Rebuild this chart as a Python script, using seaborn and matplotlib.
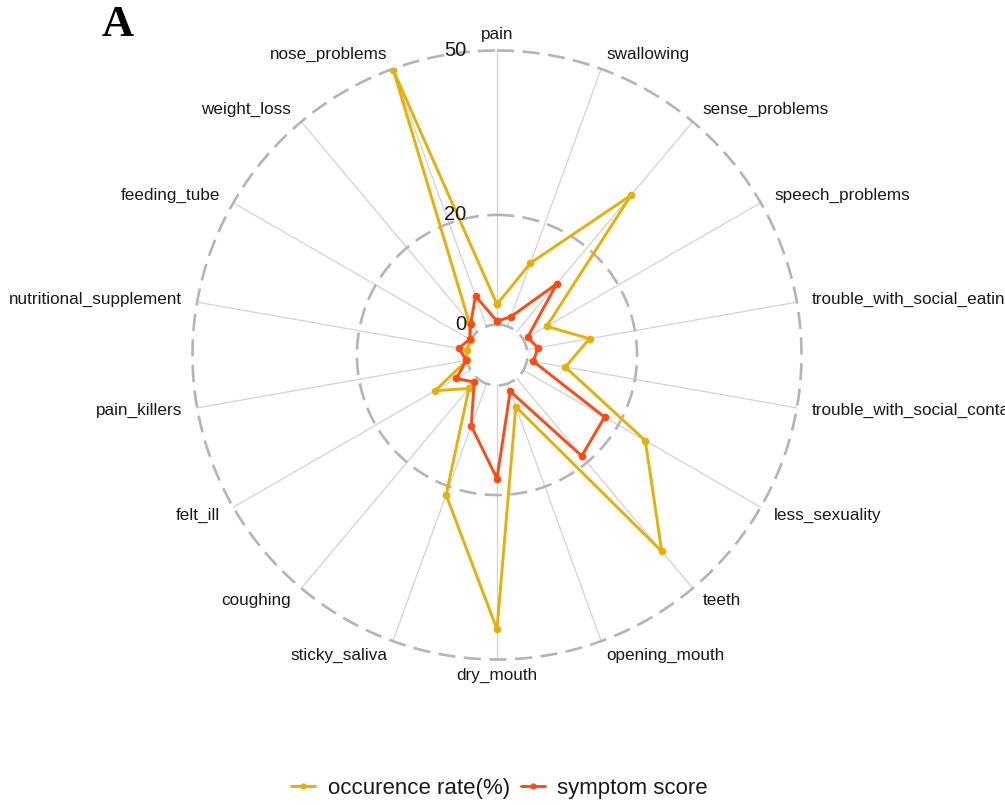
import numpy as np
import pandas as pd
import seaborn as sns
import matplotlib.pyplot as plt
from matplotlib.lines import Line2D
from matplotlib.transforms import ScaledTranslation

# data
categories = ["pain", "swallowing", "sense_problems", "speech_problems",
              "trouble_with_social_eating", "trouble_with_social_contact",
              "less_sexuality", "teeth", "opening_mouth", "dry_mouth",
              "sticky_saliva", "coughing", "felt_ill", "pain_killers",
              "nutritional_supplement", "feeding_tube", "weight_loss",
              "nose_problems"]
occurrence = [3.7, 12.3, 32.5, 4.9, 11.6, 7.1, 25.7, 41.2, 4.5, 44.5,
              21.6, 2.4, 7.5, 0.0, 0.0, 0.0, 2.4, 49.7]
symptom = [0.6, 1.9, 11.4, 0.9, 2.0, 1.2, 17.1, 18.5, 1.5, 17.0,
           8.2, 0.9, 3.0, 0.1, 1.5, 0.2, 1.9, 5.9]
series_names = ["occurence rate(%)", "symptom score"]
grid_values = [0, 20, 50]

YELLOW = "#E6B00A"
RED = "#FF4A14"
OFF = 50 / 9  # centre offset, like ggradar

sns.set_theme(style="white")
plt.rcParams["font.family"] = ["Liberation Sans", "DejaVu Sans"]

fig = plt.figure(figsize=(10.05, 8.05), dpi=100)
R_PX = 304.5
ax = fig.add_axes([(497 - R_PX) / 1005, (450 - R_PX) / 805,
                   2 * R_PX / 1005, 2 * R_PX / 805], projection="polar")
ax.set_theta_zero_location("N")
ax.set_theta_direction(-1)
ax.set_ylim(0, 50 + OFF)
ax.grid(False)
ax.set_xticks([])
ax.set_yticks([])
ax.spines["polar"].set_visible(False)
ax.set_facecolor("white")

n = len(categories)
angles = np.arange(n) * 2 * np.pi / n

# spokes
for a in angles:
    ax.plot([a, a], [OFF, 50 + OFF], color="#d2d2d2", lw=0.9, zorder=1,
            clip_on=False)

# dashed grid circles
circ = np.linspace(0, 2 * np.pi, 500)
for g in grid_values:
    ax.plot(circ, np.full_like(circ, g + OFF), color="#b4b4b4", lw=1.9,
            dashes=(6.5, 3.2), zorder=2, clip_on=False)

# grid labels
shift = ScaledTranslation(-0.31, 0, fig.dpi_scale_trans)
for g in grid_values:
    ax.text(0, g + OFF, str(g), transform=ax.transData + shift,
            ha="right", va="center", fontsize=14.5, color="#1a1a1a", zorder=5)

# data lines via seaborn
closed = np.append(angles, 2 * np.pi)
rows = []
for name, vals in zip(series_names, [occurrence, symptom]):
    v = list(vals) + [vals[0]]
    for t, val in zip(closed, v):
        rows.append({"theta": t, "r": val + OFF, "series": name})
df = pd.DataFrame(rows)
sns.lineplot(data=df, x="theta", y="r", hue="series", sort=False,
             estimator=None, palette=[YELLOW, RED], marker="o",
             markersize=5.5, markeredgewidth=0, lw=2.1, legend=False,
             ax=ax, zorder=4)
ax.set_xlabel("")
ax.set_ylabel("")

# axis labels
R_LAB = 320 / R_PX * (50 + OFF)
for a, lab in zip(angles, categories):
    s = np.sin(a)
    ha = "left" if s > 0.01 else ("right" if s < -0.01 else "center")
    ax.text(a, R_LAB, lab, ha=ha, va="center", fontsize=12.3,
            color="#1a1a1a")

# legend
handles = [Line2D([0], [0], color=c, lw=2.1, marker="o", markersize=4.5,
                  markeredgewidth=0) for c in [YELLOW, RED]]
leg = fig.legend(handles, series_names, loc="center",
                 bbox_to_anchor=(0.497, 1 - 788 / 805), ncol=2, frameon=False,
                 fontsize=16, handlelength=1.1, handletextpad=0.55,
                 columnspacing=0.5)
for t in leg.get_texts():
    t.set_color("#1a1a1a")

fig.text(118 / 1005, 1 - 25 / 805, "A", fontsize=32, fontweight="bold",
         family="Liberation Serif", ha="center", va="center", color="black")

fig.savefig("out.png", dpi=100, facecolor="white")
